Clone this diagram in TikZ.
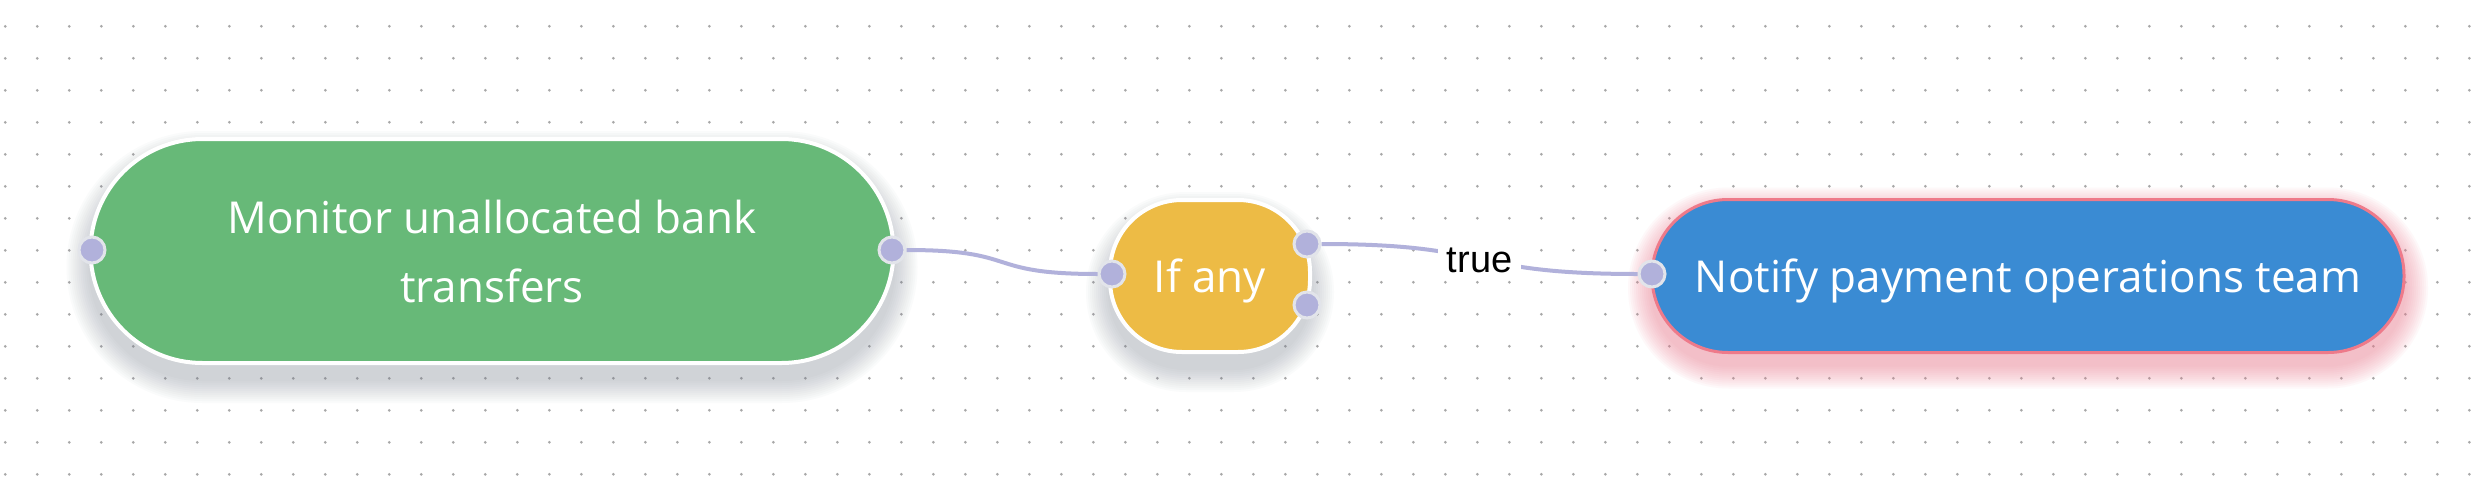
\documentclass[tikz,border=0pt]{standalone}
\usepackage{fontspec}
\setmainfont{Open Sans}
\newfontfamily\labelfont{Liberation Sans}
\usetikzlibrary{calc, positioning}

\definecolor{taskgreen}{HTML}{67B978}
\definecolor{condyellow}{HTML}{EDBB45}
\definecolor{actionblue}{HTML}{3A8BD3}
\definecolor{alertred}{HTML}{EE7A8A}
\definecolor{glowred}{HTML}{F27E92}
\definecolor{wirecol}{HTML}{B1B1DB}
\definecolor{portline}{HTML}{E2E4EA}
\definecolor{gridgray}{HTML}{A8A8A8}
\definecolor{shadegray}{HTML}{7A8090}

\newcommand{\nodeshade}[7]{%
  \foreach \s in {1,...,12}{%
    \pgfmathsetmacro{\rr}{#4/2+2*\s}%
    \fill[#5, opacity=#7, rounded corners=\rr pt]
      ({#1-#3/2-2*\s},{#2+#6-#4/2-2*\s}) rectangle ({#1+#3/2+2*\s},{#2+#6+#4/2+2*\s});
  }}

\tikzset{
  task/.style={rectangle, rounded corners=112pt, minimum width=803pt, minimum height=224pt,
    fill=taskgreen, draw=white, line width=4pt, text=white, align=center,
    font=\fontsize{44pt}{69pt}\selectfont},
  cond/.style={rectangle, rounded corners=72pt, minimum width=200pt, minimum height=152pt,
    fill=condyellow, draw=white, line width=4pt, text=white,
    text height=33pt, text depth=0pt, font=\fontsize{44pt}{52pt}\selectfont},
  action/.style={rectangle, rounded corners=76pt, minimum width=752pt, minimum height=153pt,
    fill=actionblue, draw=alertred, line width=3pt, text=white,
    text height=33pt, text depth=0pt, font=\fontsize{44pt}{52pt}\selectfont},
  port/.style={circle, fill=wirecol, draw=portline, line width=3pt, minimum size=26pt, inner sep=0pt},
  wire/.style={draw=wirecol, line width=4pt},
  flag/.style={fill=white, text=black, inner xsep=9pt, inner ysep=3pt,
    text height=27pt, text depth=0pt, font=\labelfont\fontsize{38pt}{40pt}\selectfont}
}

\begin{document}
\begin{tikzpicture}[x=1pt, y=-1pt]
\fill[white] (0,0) rectangle (2488,498);
\useasboundingbox (0,0) rectangle (2488,498);
\foreach \i in {0,...,77}
  \foreach \j in {0,...,14}
    \fill[gridgray] ({5.3+32*\i},{26.3+32*\j}) circle (1.5);

\nodeshade{492}{251}{803}{224}{shadegray}{16}{0.03}
\nodeshade{1210}{276}{200}{152}{shadegray}{16}{0.03}
\nodeshade{2028}{276}{752}{153}{glowred}{12}{0.05}

   \node[task] (monitor) at (492,251) {Monitor unallocated bank\\transfers};
    \node[cond] (ifany) at (1210,276) {If any};
    \node[action] (notify) at (2028,276) {Notify payment operations team};

    \node[port] (monitorin) at (92,250) {};
    \node[port] (monitorout) at (892,250) {};
    \node[port] (ifanyin) at (1112,274) {};
    \node[port] (ifanytrue) at (1307,244) {};
    \node[port] (ifanyfalse) at (1307,305) {};
    \node[port] (notifyin) at (1652,274) {};

\draw[wire] (monitorout) .. controls +(130,0) and +(-130,0) .. (ifanyin);
\draw[wire] (ifanytrue) .. controls +(190,0) and +(-190,0) .. (notifyin) node [midway, flag] {true};
\end{tikzpicture}
\end{document}
